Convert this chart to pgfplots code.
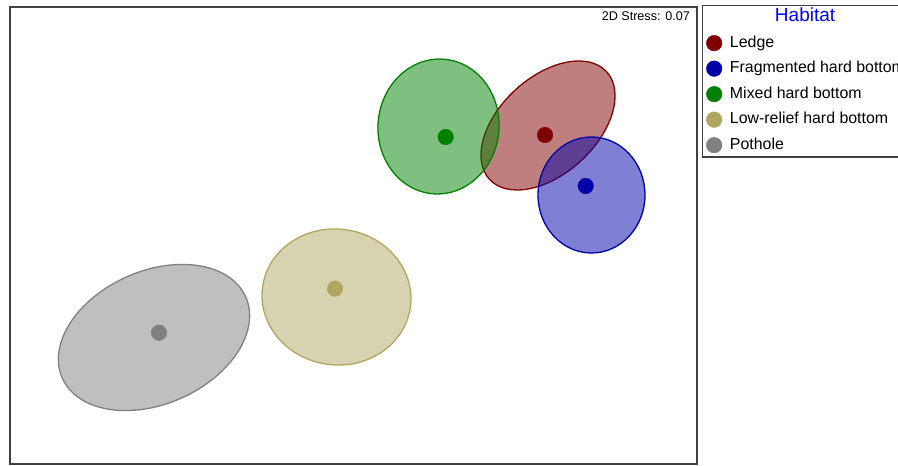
\documentclass[border=0pt]{standalone}
\usepackage{pgfplots}
\pgfplotsset{compat=1.18}
\usepackage{fontspec}
\setmainfont{Liberation Sans}

% Habitat colours
\definecolor{ledge}{HTML}{800000}
\definecolor{frag}{HTML}{0000A8}
\definecolor{mixed}{HTML}{008000}
\definecolor{lowrelief}{HTML}{B0A662}
\definecolor{pothole}{HTML}{808080}
\definecolor{framegray}{HTML}{404040}

\begin{document}
\begin{tikzpicture}
\begin{axis}[
  at={(10pt,2pt)}, anchor=south west,
  scale only axis, width=687pt, height=457pt,
  xmin=-3.435, xmax=3.435, ymin=-2.285, ymax=2.285,
  ticks=none,
  axis line style={draw=framegray, line width=1.4pt},
  legend style={
    at={(1.00728,1.00438)}, anchor=north west,
    draw=framegray, line width=1.3pt,
    font=\fontsize{15.9}{18}\selectfont,
    row sep=5.5pt, column sep=6pt,
    nodes={text height=12pt, text depth=4pt, inner ysep=2pt},
  },
  legend cell align=left,
]
% title row of the legend
\addlegendimage{empty legend}
\addlegendentry{\hspace{45pt}{\color{blue}\fontsize{19}{19}\selectfont Habitat}}

% group ellipses (centre, semi-axes, rotation in degrees)
\draw[pothole, fill=pothole, fill opacity=0.5, line width=1.3pt]
  (axis cs:-1.995,-1.020) ellipse [x radius=1.003, y radius=0.665, rotate=23.8];
\draw[lowrelief, fill=lowrelief, fill opacity=0.5, line width=1.3pt]
  (axis cs:-0.170,-0.615) ellipse [x radius=0.746, y radius=0.679, rotate=-7.6];
\draw[ledge, fill=ledge, fill opacity=0.5, line width=1.3pt]
  (axis cs:1.945,1.100) ellipse [x radius=0.795, y radius=0.483, rotate=42.6];
\draw[mixed, fill=mixed, fill opacity=0.5, line width=1.3pt]
  (axis cs:0.850,1.090) ellipse [x radius=0.605, y radius=0.675, rotate=-5];
\draw[frag, fill=frag, fill opacity=0.5, line width=1.3pt]
  (axis cs:2.380,0.405) ellipse [x radius=0.535, y radius=0.580, rotate=0];

% group centroids
\addplot[only marks, mark=*, mark size=7.8pt, color=ledge, mark options={line width=0.4pt}]
  coordinates {(1.915,1.005)};
\addlegendentry{Ledge}
\addplot[only marks, mark=*, mark size=7.8pt, color=frag, mark options={line width=0.4pt}]
  coordinates {(2.322,0.495)};
\addlegendentry{Fragmented hard bottom}
\addplot[only marks, mark=*, mark size=7.8pt, color=mixed, mark options={line width=0.4pt}]
  coordinates {(0.922,0.985)};
\addlegendentry{Mixed hard bottom}
\addplot[only marks, mark=*, mark size=7.8pt, color=lowrelief, mark options={line width=0.4pt}]
  coordinates {(-0.185,-0.532)};
\addlegendentry{Low-relief hard bottom}
\addplot[only marks, mark=*, mark size=7.8pt, color=pothole, mark options={line width=0.4pt}]
  coordinates {(-1.945,-0.972)};
\addlegendentry{Pothole}

\node[anchor=north east, inner sep=0pt, xshift=-7pt, yshift=-5pt,
      font=\fontsize{12.6}{14}\selectfont] at (rel axis cs:1,1) {2D Stress: 0.07};
\end{axis}
\pgfresetboundingbox
\useasboundingbox (0,0) rectangle (898pt,466pt);
\end{tikzpicture}
\end{document}
